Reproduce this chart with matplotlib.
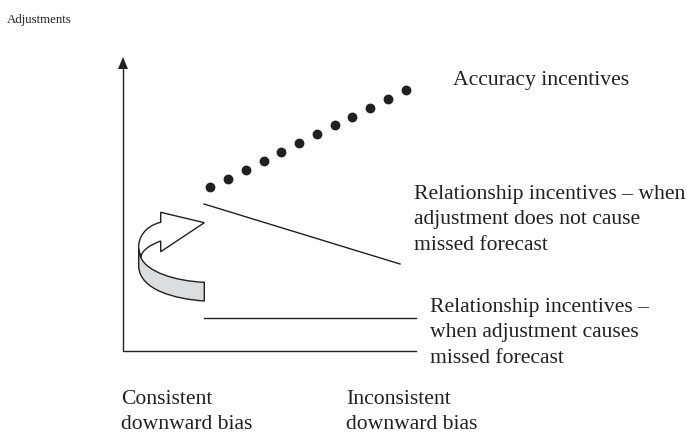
import matplotlib
matplotlib.use('Agg')
import matplotlib.pyplot as plt
from matplotlib.patches import PathPatch
from matplotlib.path import Path

plt.rcParams['font.family'] = ['Liberation Serif', 'DejaVu Serif']

# everything in pixels
dots_x = [210.3, 228.3, 246, 263.7, 281.3, 299, 316.7, 334.7, 352.3, 370, 387.7, 405.7]
dots_y = [187.3, 178.7, 169.7, 160.7, 152, 143, 134, 125.3, 116.7, 107.7, 99, 90]
upper_x = [204, 400]
upper_y = [204, 264]
lower_x = [204, 416]
lower_y = [318, 318]

tick_labels = ['Consistent\ndownward bias', 'Inconsistent\ndownward bias']
y_title = 'Adjustments'
series_labels = ['Accuracy incentives',
                 'Relationship incentives \u2013 when\nadjustment does not cause\nmissed forecast',
                 'Relationship incentives \u2013\nwhen adjustment causes\nmissed forecast']

fig = plt.figure(figsize=(6.87, 4.37), dpi=100)
ax = fig.add_axes([0, 0, 1, 1])
ax.set_xlim(0, 687)
ax.set_ylim(437, 0)
ax.axis('off')

# axes lines
ax.plot([123, 123, 416], [66, 351, 351], color='#231f20', lw=1.0)
ax.fill([118, 128, 123], [69, 69, 57], color='#231f20', lw=0)

# series
ax.scatter(dots_x, dots_y, s=50, color='#231f20', linewidths=0)
ax.plot(upper_x, upper_y, color='#231f20', lw=1.0)
ax.plot(lower_x, lower_y, color='#231f20', lw=1.0)

# curved arrow, grey band first then white head
band = Path([(138.7, 248), (138.7, 266.7), (140, 290), (175, 299), (204.3, 301),
             (204.3, 282.3), (175, 281), (147, 272), (140.7, 257.3), (138.7, 248)],
            [Path.MOVETO, Path.LINETO, Path.CURVE4, Path.CURVE4, Path.CURVE4,
             Path.LINETO, Path.CURVE4, Path.CURVE4, Path.CURVE4, Path.LINETO])
ax.add_patch(PathPatch(band, facecolor='#dcddde', edgecolor='#231f20', lw=1.0))
head = Path([(140.7, 257.3), (142, 250), (150, 245), (160.7, 241), (160.7, 251.7),
             (204.3, 222.7), (160.7, 212.3), (160.7, 222.3),
             (145, 226), (138, 238), (138.7, 248), (140.7, 257.3)],
            [Path.MOVETO, Path.CURVE4, Path.CURVE4, Path.CURVE4, Path.LINETO,
             Path.LINETO, Path.LINETO, Path.LINETO,
             Path.CURVE4, Path.CURVE4, Path.CURVE4, Path.LINETO])
ax.add_patch(PathPatch(head, facecolor='white', edgecolor='#231f20', lw=1.0))

# text
txt = dict(color='#231f20', va='top', ha='left', linespacing=1.46)
ax.text(7, 14, y_title, fontsize=9.3, **txt)
ax.text(453, 71, series_labels[0], fontsize=15.6, **txt)
ax.text(414, 185, series_labels[1], fontsize=15.6, **txt)
ax.text(430, 298, series_labels[2], fontsize=15.6, **txt)
ax.text(121, 390, tick_labels[0], fontsize=15.6, **txt)
ax.text(346, 390, tick_labels[1], fontsize=15.6, **txt)

fig.savefig('out.png', dpi=100)
